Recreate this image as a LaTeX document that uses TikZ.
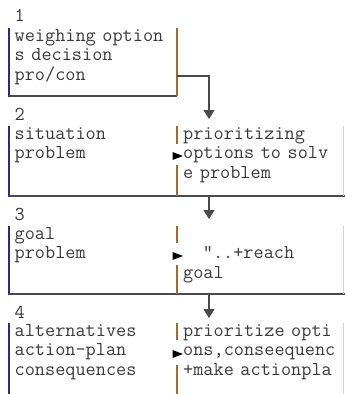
\documentclass[tikz,border=0pt]{standalone}
\usepackage{fontspec}
\usetikzlibrary{arrows.meta}
\definecolor{navy}{HTML}{27306E}
\definecolor{floorgray}{HTML}{4A4A4A}
\definecolor{divider}{HTML}{9C6B3A}
\definecolor{faint}{HTML}{E2D3B4}
\definecolor{ink}{HTML}{3A3A3A}
\begin{document}
\begin{tikzpicture}[x=1pt,y=-1pt,
  txt/.style={anchor=base west,inner sep=0pt,text width=165pt,align=left,
    font=\ttfamily\fontsize{19.7}{19.5}\selectfont,text=ink},
  num/.style={anchor=base west,inner sep=0pt,
    font=\ttfamily\fontsize{19.7}{19.5}\selectfont,text=ink},
  leftedge/.style={draw=navy,line width=1.3pt},
  floorline/.style={draw=floorgray,line width=1.2pt},
  divline/.style={draw=divider,line width=1.3pt},
  rightedge/.style={draw=faint,line width=1.3pt},
  flow/.style={draw=floorgray,line width=1.2pt,-{Triangle[length=9pt,width=11pt]}},
  pointer/.style={fill=black},
]
\useasboundingbox (0,0) rectangle (345,394);

% ---------- step 1 ----------
\node[num] (n1) at (14.5,21.5) {1};
\node[txt] (l1) at (14.5,41.3) {weighing option\\s decision\\pro/con};
\draw[leftedge] (9,28) -- (9,96.6);
\draw[floorline] (9,96) -- (177,96);
\draw[divline] (177,28) -- (177,96);

% ---------- step 2 ----------
\node[num] (n2) at (14.5,120.5) {2};
\node[txt] (l2) at (14.5,139.3) {situation\\problem};
\node[txt] (r2) at (183,139.3) {prioritizing\\options to solv\\e problem};
\draw[leftedge] (9,126) -- (9,196.6);
\draw[floorline] (9,196) -- (345,196);
\draw[divline] (177,126) -- (177,144) (177,165) -- (177,196);
\draw[rightedge] (343.5,126) -- (343.5,196);
\fill[pointer] (172.5,152) -- (183,156) -- (172.5,160) -- cycle;

% ---------- step 3 ----------
\node[num] (n3) at (14.5,220.5) {3};
\node[txt] (l3) at (14.5,239.3) {goal\\problem};
\node[txt] (r3) at (183,258.8) {\ \ \ "..+reach\\goal};
\draw[leftedge] (9,226) -- (9,294.6);
\draw[floorline] (9,294) -- (345,294);
\draw[divline] (177,226) -- (177,243) (177,265) -- (177,294);
\draw[rightedge] (343.5,226) -- (343.5,294);
\fill[pointer] (172.5,252) -- (183,256) -- (172.5,260) -- cycle;

% ---------- step 4 ----------
\node[num] (n4) at (14.5,318) {4};
\node[txt] (l4) at (14.5,336.3) {alternatives\\action-plan\\consequences};
\node[txt] (r4) at (183,336.3) {prioritize opti\\ons,conseequenc\\+make actionpla};
\draw[leftedge] (9,323) -- (9,394);
\draw[divline] (177,323) -- (177,340) (177,365) -- (177,394);
\draw[rightedge] (343.5,323) -- (343.5,394);
\fill[pointer] (172.5,350) -- (183,354) -- (172.5,358) -- cycle;

% ---------- connectors between steps ----------
\coordinate (out1) at (177,76);
\coordinate (in2) at (209,119);
\coordinate (out2) at (209,196);
\coordinate (in3) at (209,219);
\coordinate (out3) at (209,294);
\coordinate (in4) at (209,318);
\draw[flow] (out1) -| (in2);
\draw[flow] (out2) -- (in3);
\draw[flow] (out3) -- (in4);
\end{tikzpicture}
\end{document}
